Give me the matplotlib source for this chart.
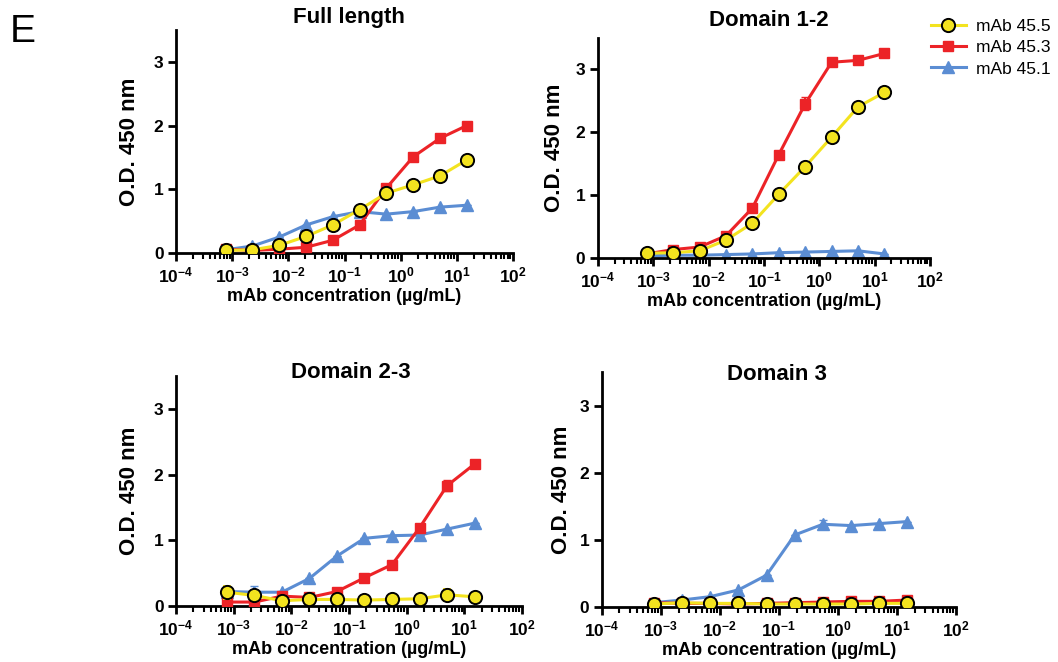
import matplotlib
matplotlib.use("Agg")
import matplotlib.pyplot as plt
from matplotlib.lines import Line2D
from matplotlib.ticker import LogLocator, NullFormatter, FuncFormatter, FixedLocator
import math

plt.rcParams['font.family'] = ['Liberation Sans', 'DejaVu Sans']
plt.rcParams['font.weight'] = 'bold'
plt.rcParams['mathtext.fontset'] = 'custom'
plt.rcParams['mathtext.bf'] = 'Liberation Sans:bold'
plt.rcParams['mathtext.rm'] = 'Liberation Sans:bold'

# 3-fold dilutions, µg/mL
conc = [0.000762, 0.00229, 0.00686, 0.0206, 0.0617, 0.185, 0.556, 1.67, 5.0, 15.0]
decades = [1e-4, 1e-3, 1e-2, 1e-1, 1e0, 1e1, 1e2]

names = ["mAb 45.5", "mAb 45.3", "mAb 45.1"]
titles = ["Full length", "Domain 1-2", "Domain 2-3", "Domain 3"]

# Full length
fl_455 = [0.04, 0.05, 0.12, 0.26, 0.44, 0.68, 0.94, 1.07, 1.21, 1.46]
fl_453 = [0.06, 0.04, 0.06, 0.09, 0.20, 0.44, 1.02, 1.51, 1.80, 2.00]
fl_451 = [0.05, 0.11, 0.25, 0.44, 0.57, 0.65, 0.61, 0.65, 0.72, 0.75]
fl_err = [[0] * 10, [0] * 10, [0] * 10]

# Domain 1-2
d12_455 = [0.07, 0.08, 0.11, 0.28, 0.55, 1.01, 1.45, 1.92, 2.40, 2.63]
d12_453 = [0.06, 0.13, 0.17, 0.35, 0.79, 1.64, 2.45, 3.11, 3.14, 3.25]
d12_451 = [0.03, 0.04, 0.04, 0.05, 0.06, 0.08, 0.09, 0.10, 0.11, 0.06]
d12_err = [[0] * 10, [0, 0, 0, 0, 0, 0, 0.1, 0, 0, 0], [0] * 10]

# Domain 2-3
d23_455 = [0.21, 0.16, 0.08, 0.10, 0.10, 0.09, 0.10, 0.11, 0.17, 0.14]
d23_453 = [0.06, 0.06, 0.15, 0.13, 0.22, 0.43, 0.63, 1.19, 1.83, 2.16]
d23_451 = [0.22, 0.21, 0.21, 0.42, 0.76, 1.03, 1.07, 1.08, 1.17, 1.26]
d23_err = [[0.1, 0, 0, 0, 0, 0, 0, 0, 0.09, 0],
           [0, 0, 0, 0, 0, 0, 0, 0, 0.08, 0],
           [0, 0.1, 0, 0, 0, 0, 0, 0, 0, 0]]

# Domain 3
d3_455 = [0.04, 0.06, 0.05, 0.05, 0.04, 0.04, 0.04, 0.04, 0.05, 0.05]
d3_453 = [0.06, 0.05, 0.05, 0.04, 0.05, 0.06, 0.07, 0.08, 0.08, 0.10]
d3_451 = [0.06, 0.10, 0.15, 0.25, 0.47, 1.07, 1.23, 1.21, 1.24, 1.27]
d3_err = [[0] * 10, [0] * 10, [0, 0, 0, 0, 0, 0, 0.06, 0, 0, 0]]

panels = [
    (fl_455, fl_453, fl_451, fl_err),
    (d12_455, d12_453, d12_451, d12_err),
    (d23_455, d23_453, d23_451, d23_err),
    (d3_455, d3_453, d3_451, d3_err),
]

positions = [
    [0.1664, 0.6178, 0.3185, 0.3369],
    [0.5652, 0.6107, 0.3138, 0.3323],
    [0.1664, 0.0846, 0.3270, 0.3474],
    [0.5687, 0.0835, 0.3350, 0.3545],
]
# title centres (figure pixels) and y-label offsets (axes fraction)
title_xy = [(349, 18), (769, 20), (351, 373), (777, 375)]
ylab_x = [-0.107, -0.099, -0.104, -0.084]

yellow = '#f3e31f'
red = '#ec2327'
blue = '#5b8dd3'

W, H = 1058, 662
fig = plt.figure(figsize=(W / 100, H / 100), dpi=100)

def dec_fmt(v, pos):
    return r'$\mathbf{10^{%d}}$' % round(math.log10(v))

for i in range(4):
    ax = fig.add_axes(positions[i])
    y455, y453, y451, err = panels[i]

    ax.errorbar(conc, y451, yerr=err[2], color=blue, lw=2.2, marker='^',
                ms=8, mec=blue, capsize=3, elinewidth=1.5, zorder=2)
    ax.errorbar(conc, y453, yerr=err[1], color=red, lw=2.2, marker='s',
                ms=7.5, mec=red, capsize=3, elinewidth=1.5, zorder=3)
    ax.errorbar(conc, y455, yerr=err[0], color=yellow, lw=2.2, marker='o',
                ms=9.5, mfc=yellow, mec='black', mew=1.4, capsize=3,
                elinewidth=1.5, zorder=4)

    ax.set_xscale('log')
    ax.set_xlim(1e-4, 1e2)
    ax.set_ylim(0, 3.5)
    ax.set_yticks([0, 1, 2, 3])
    ax.xaxis.set_major_locator(FixedLocator(decades))
    ax.xaxis.set_major_formatter(FuncFormatter(dec_fmt))
    ax.xaxis.set_minor_locator(LogLocator(base=10, subs=range(2, 10), numticks=100))
    ax.xaxis.set_minor_formatter(NullFormatter())

    for s in ['top', 'right']:
        ax.spines[s].set_visible(False)
    for s in ['left', 'bottom']:
        ax.spines[s].set_linewidth(2)
    ax.tick_params(which='major', direction='out', length=6, width=2, labelsize=12.5, pad=3)
    ax.tick_params(which='minor', direction='out', length=4, width=1.5)
    for lab in ax.get_yticklabels():
        lab.set_fontweight('bold')

    tx, ty = title_xy[i]
    fig.text(tx / W, 1 - ty / H, titles[i], fontsize=16, fontweight='bold',
             ha='center', va='center')
    ax.set_xlabel("mAb concentration (µg/mL)", fontsize=13, fontweight='bold', labelpad=2)
    ax.set_ylabel("O.D. 450 nm", fontsize=16, fontweight='bold')
    ax.yaxis.set_label_coords(ylab_x[i], 0.5)

handles = [
    Line2D([], [], color=yellow, lw=2.2, marker='o', ms=9.5, mfc=yellow, mec='black', mew=1.4),
    Line2D([], [], color=red, lw=2.2, marker='s', ms=7.5, mec=red),
    Line2D([], [], color=blue, lw=2.2, marker='^', ms=8, mec=blue),
]
fig.legend(handles, names, loc='upper right', bbox_to_anchor=(1.008, 0.995),
           frameon=False, prop={'size': 12.5, 'weight': 'normal'},
           handlelength=2.0, handletextpad=0.6, labelspacing=0.35)

fig.text(10 / W, 1 - 42 / H, "E", fontsize=28, fontweight='normal', va='baseline', ha='left')

fig.savefig("out.png", dpi=100)
